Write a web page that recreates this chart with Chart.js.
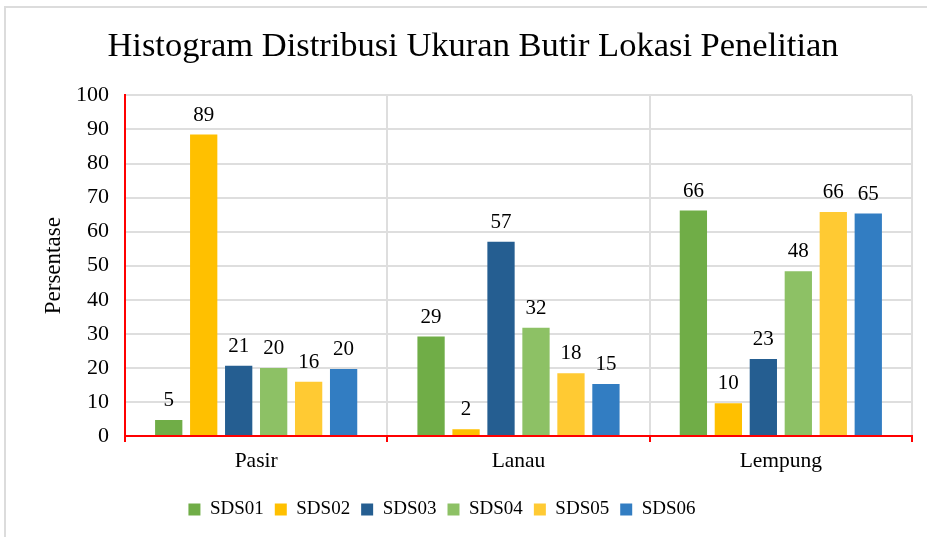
<!DOCTYPE html>
<html>
<head>
<meta charset="utf-8">
<script src="https://cdn.jsdelivr.net/npm/chart.js@4.4.1/dist/chart.umd.min.js"></script>
<style>
  html, body { margin: 0; padding: 0; background: #fff; }
  #wrap { position: relative; width: 927px; height: 537px; overflow: hidden; }
  #frame { position: absolute; left: 4px; top: 6px; width: 960px; height: 560px; border: 2px solid #dcdcdc; box-sizing: border-box; }
  #c { position: absolute; left: 0; top: 0; }
</style>
</head>
<body>
<div id="wrap">
  <div id="frame"></div>
  <canvas id="c" width="927" height="537"></canvas>
</div>
<script>
const categories = ['Pasir', 'Lanau', 'Lempung'];
const seriesNames = ['SDS01', 'SDS02', 'SDS03', 'SDS04', 'SDS05', 'SDS06'];
const sds01 = [4.7, 29.2, 66.2];
const sds02 = [88.5, 2.0, 9.6];
const sds03 = [20.6, 57.0, 22.6];
const sds04 = [20.0, 31.8, 48.4];
const sds05 = [15.9, 18.4, 65.8];
const sds06 = [19.7, 15.3, 65.3];
const seriesColors = ['#70ad47', '#ffc000', '#255e91', '#8dc165', '#ffca33', '#327dc2'];

const serif = "'Liberation Serif', 'DejaVu Serif', serif";

// draws the rounded value above every bar
const barLabels = {
  id: 'barLabels',
  afterDatasetsDraw(chart) {
    const {ctx} = chart;
    ctx.save();
    ctx.font = '21px ' + serif;
    ctx.fillStyle = '#000';
    ctx.textAlign = 'center';
    ctx.textBaseline = 'alphabetic';
    chart.data.datasets.forEach((ds, i) => {
      chart.getDatasetMeta(i).data.forEach((bar, j) => {
        ctx.fillText(Math.round(ds.data[j]), bar.x, bar.y - 14);
      });
    });
    ctx.restore();
  }
};

// title and legend are not quite centred in the original
const nudgeBoxes = {
  id: 'nudgeBoxes',
  afterLayout(chart) {
    chart.legend.left -= 14;
    chart.legend.right -= 14;
    chart.titleBlock.left += 17;
    chart.titleBlock.right += 17;
  }
};

const allSeries = [sds01, sds02, sds03, sds04, sds05, sds06];

new Chart(document.getElementById('c'), {
  type: 'bar',
  data: {
    labels: categories,
    datasets: allSeries.map((vals, i) => ({
      label: seriesNames[i],
      data: vals,
      backgroundColor: seriesColors[i],
      barPercentage: 0.78,
      categoryPercentage: 0.8,
    })),
  },
  options: {
    responsive: false,
    animation: false,
    layout: {padding: {left: 0, right: 15, top: 0, bottom: 8}},
    plugins: {
      title: {
        display: true,
        text: 'Histogram Distribusi Ukuran Butir Lokasi Penelitian',
        color: '#000',
        font: {family: serif, size: 34.5, weight: 'normal'},
        padding: {top: 26, bottom: 28},
      },
      legend: {
        position: 'bottom',
        labels: {
          color: '#000',
          font: {family: serif, size: 19},
          boxWidth: 12,
          boxHeight: 12,
          padding: 11,
        },
      },
      tooltip: {enabled: false},
    },
    scales: {
      x: {
        grid: {color: '#dedede', lineWidth: 2, tickColor: '#ff0000', tickLength: 6, offset: true},
        border: {color: '#ff0000', width: 2},
        ticks: {color: '#000', font: {family: serif, size: 21.5}, padding: 6},
        afterFit(scale) { scale.height = 53; },
      },
      y: {
        min: 0,
        max: 100,
        ticks: {stepSize: 10, color: '#000', font: {family: serif, size: 22}, padding: 16},
        grid: {color: '#dedede', lineWidth: 2, drawTicks: false},
        border: {color: '#ff0000', width: 2},
        title: {
          display: true,
          text: 'Persentase',
          color: '#000',
          font: {family: serif, size: 23},
          padding: {top: 40, bottom: 0},
        },
        afterFit(scale) { scale.width = 125; },
      },
    },
  },
  plugins: [barLabels, nudgeBoxes],
});
</script>
</body>
</html>
